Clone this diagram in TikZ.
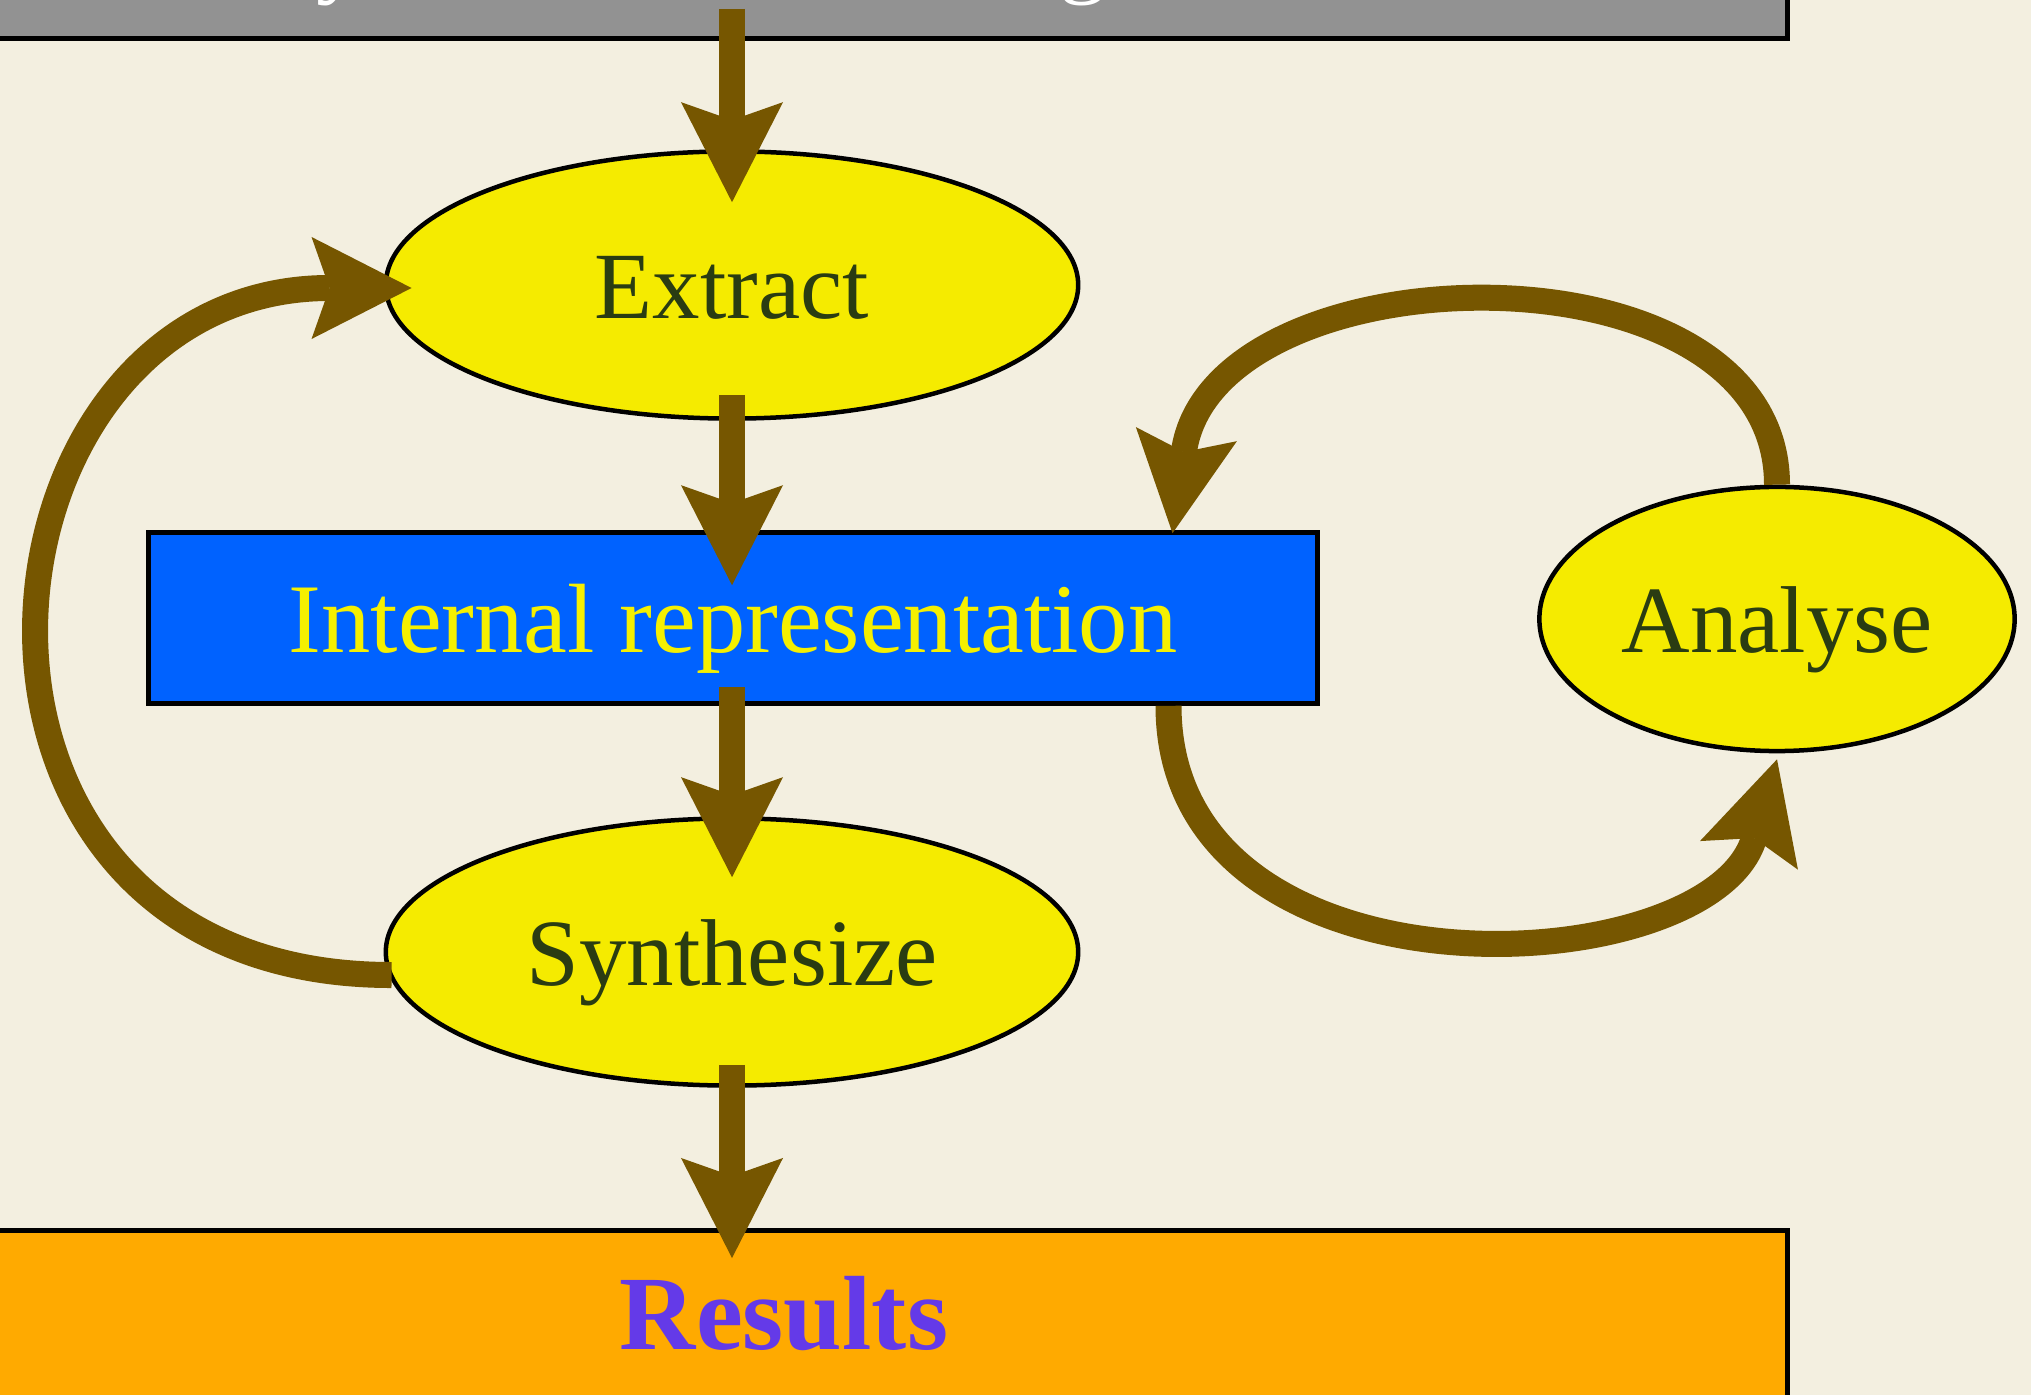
\documentclass[tikz,border=0pt]{standalone}
\usepackage{fontspec}
\setmainfont{Liberation Serif}
\usetikzlibrary{shapes.geometric,arrows.meta,calc}
\definecolor{paper}{RGB}{243,239,224}
\definecolor{sourcegray}{RGB}{146,146,146}
\definecolor{stageyellow}{RGB}{245,235,0}
\definecolor{stagetext}{RGB}{42,60,18}
\definecolor{reprblue}{RGB}{0,98,255}
\definecolor{reprtext}{RGB}{245,240,0}
\definecolor{resultorange}{RGB}{255,170,0}
\definecolor{resulttext}{RGB}{100,58,232}
\definecolor{flowbrown}{RGB}{118,86,0}
\begin{document}
\begin{tikzpicture}[x=0.01cm,y=-0.01cm,
  base/.style={draw=black,line width=0.045cm,inner sep=0pt},
  bigfont/.style={font=\fontsize{27}{32}\selectfont},
  stage/.style={base,ellipse,fill=stageyellow,minimum width=6.92cm,
    minimum height=2.67cm,text=stagetext,bigfont,text height=19pt,text depth=0pt},
  block/.style={base,rectangle},
  flow/.style={draw=flowbrown,line width=0.26cm,
    -{Stealth[length=1cm,width=1.02cm,inset=0.18cm,line width=0pt]}},
]
\clip (0,0) rectangle (2031,1395);
\fill[paper] (0,0) rectangle (2031,1395);

% input box along the top edge
\node[block,fill=sourcegray,line width=0.05cm,anchor=south east,
  minimum width=18.4cm,minimum height=0.9cm] (source) at (1790,41) {};
\node[bigfont,text=white,anchor=base,inner sep=0pt] (srcy) at (340,-14) {y};
\node[bigfont,text=white,anchor=base,inner sep=0pt] (srcg) at (1083,-14) {g};

% processing stages
\node[stage] (extract) at (732,285) {Extract};
\node[block,fill=reprblue,minimum width=11.68cm,minimum height=1.71cm,
  text=reprtext,font=\fontsize{28}{33}\selectfont,text height=19.5pt,text depth=0pt]
  (internal) at (733,618) {Internal representation};
\node[stage] (synth) at (732,952) {Synthesize};
\node[stage,minimum width=4.75cm,minimum height=2.64cm] (analyse) at (1777,619) {Analyse};

% output box along the bottom edge
\node[block,fill=resultorange,line width=0.05cm,anchor=north east,
  minimum width=18.4cm,minimum height=2cm] (results) at (1790,1228) {};
\node[text=resulttext,font=\fontsize{30}{35}\selectfont\bfseries,
  text height=20.5pt,text depth=0pt,inner sep=0pt] (resultslabel) at (784,1313) {Results};

% main flow
\draw[flow] ([yshift=0.32cm]source.south -| extract.north) -- ([yshift=-0.53cm]extract.north);
\draw[flow] ([yshift=0.26cm]extract.south) -- ([yshift=-0.55cm]internal.north -| extract.south);
\draw[flow] ([yshift=0.19cm]internal.south -| extract.south) -- ([yshift=-0.61cm]synth.north);
\draw[flow] ([yshift=0.23cm]synth.south) -- ([yshift=-0.30cm]results.north -| synth.south);

% feedback from synthesis back to extraction
\draw[flow] ([xshift=0.08cm,yshift=-0.23cm]synth.west)
  .. controls +(-495,0) and +(-455,0) .. ([xshift=0.28cm,yshift=-0.03cm]extract.west);

% analysis loop
\draw[flow] ([xshift=-1.51cm]internal.south east)
  .. controls +(0,305) and +(-66,226) .. ([yshift=-0.06cm]analyse.south);
\draw[flow] (analyse.north)
  .. controls +(0,-250) and +(40,-286) .. ([xshift=-1.47cm,yshift=-0.03cm]internal.north east);
\end{tikzpicture}
\end{document}
